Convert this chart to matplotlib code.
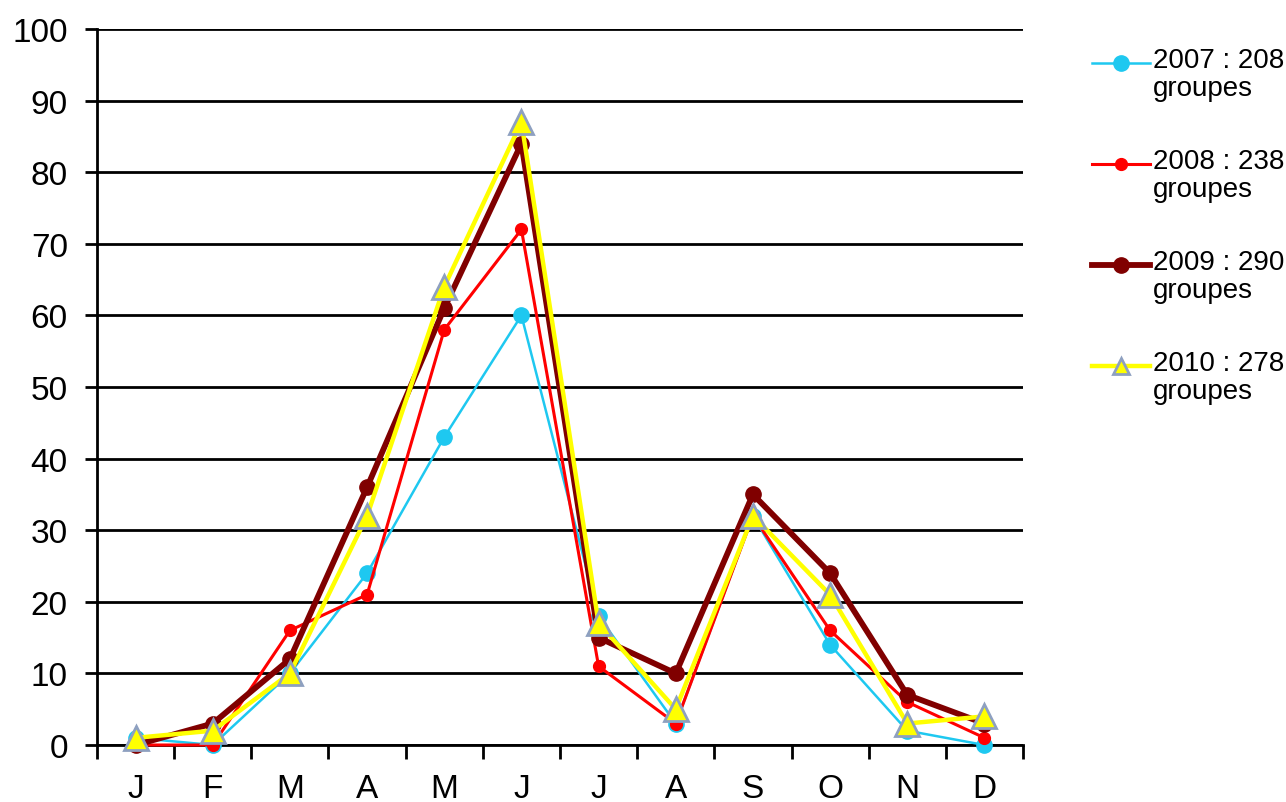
import matplotlib
matplotlib.use("Agg")
import matplotlib.pyplot as plt
import numpy as np
from matplotlib.lines import Line2D

plt.rcParams['font.family'] = ['Liberation Sans', 'DejaVu Sans']

months = ['J', 'F', 'M', 'A', 'M', 'J', 'J', 'A', 'S', 'O', 'N', 'D']

y2007 = [1, 0, 10, 24, 43, 60, 18, 3, 32, 14, 2, 0]
y2008 = [0, 0, 16, 21, 58, 72, 11, 3, 32, 16, 6, 1]
y2009 = [0, 3, 12, 36, 61, 84, 15, 10, 35, 24, 7, 3]
y2010 = [1, 2, 10, 32, 64, 87, 17, 5, 32, 21, 3, 4]

labels = ['2007 : 208\ngroupes', '2008 : 238\ngroupes',
          '2009 : 290\ngroupes', '2010 : 278\ngroupes']

W, H = 1286, 803
fig = plt.figure(figsize=(W / 100, H / 100), dpi=100)
ax = fig.add_axes([97 / W, 1 - 746 / H, (1023 - 97) / W, (746 - 30) / H])

x = np.arange(len(months))

styles = [
    dict(color='#1ec8f0', lw=1.8, marker='o', ms=11, mfc='#1ec8f0', mec='#1ec8f0'),
    dict(color='#ff0000', lw=2.2, marker='o', ms=8.5, mfc='#ff0000', mec='#ff0000'),
    dict(color='#800000', lw=4.2, marker='o', ms=11, mfc='#800000', mec='#800000'),
    dict(color='#ffff00', lw=3.2, marker='^', ms=17, mfc='#ffff00', mec='#8ea0c0', mew=2),
]
for ys, st in zip([y2007, y2008, y2009, y2010], styles):
    ax.plot(x, ys, clip_on=False, zorder=3, **st)

ax.set_xlim(-0.5, 11.5)
ax.set_ylim(0, 100)
ax.set_yticks(np.arange(0, 101, 10))
ax.yaxis.grid(True, color='black', lw=2)
ax.set_axisbelow(True)

ax.set_xticks(x)
ax.set_xticklabels(months)
ax.set_xticks(np.arange(-0.5, 12, 1), minor=True)
ax.tick_params(axis='x', which='major', length=0, labelsize=24, pad=20)
ax.tick_params(axis='x', which='minor', length=10, width=2, direction='out')
ax.tick_params(axis='y', length=9, width=2, labelsize=24, pad=12)

for s in ['top', 'right']:
    ax.spines[s].set_visible(False)
for s in ['left', 'bottom']:
    ax.spines[s].set_linewidth(2)

# legend drawn by hand: handle lines up with the first text line
for i, (st, lab) in enumerate(zip(styles, labels)):
    yp = 1 - (64 + 101 * i) / H
    st_leg = dict(st)
    if st_leg['marker'] == '^':
        st_leg['ms'] = 11
    fig.add_artist(Line2D([1092 / W, 1150 / W], [yp, yp], transform=fig.transFigure,
                          **{k: v for k, v in st_leg.items()
                             if k not in ('marker', 'ms', 'mfc', 'mec', 'mew')}))
    fig.add_artist(Line2D([1121 / W], [yp], transform=fig.transFigure, ls='none',
                          **{k: v for k, v in st_leg.items() if k not in ('lw', 'color')}))
    fig.text(1153 / W, yp + 16 / H, lab, fontsize=20, va='top', ha='left', linespacing=1.12)

fig.savefig('out.png', dpi=100)
